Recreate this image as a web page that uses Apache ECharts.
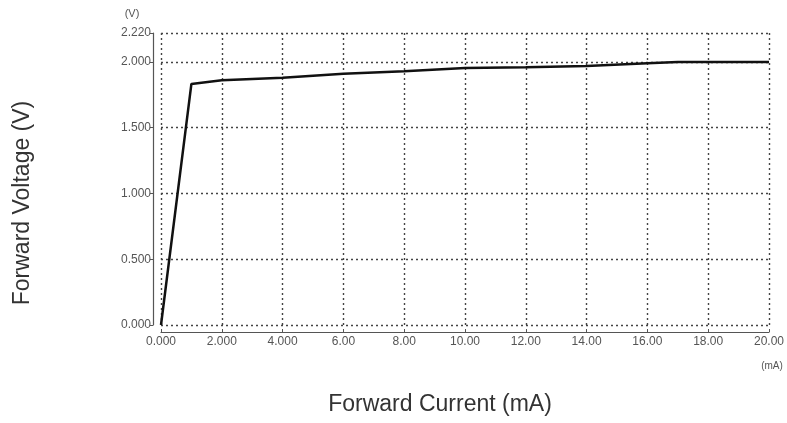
<!DOCTYPE html>
<html>
<head>
<meta charset="utf-8">
<script src="https://cdn.jsdelivr.net/npm/echarts@6/dist/echarts.min.js"></script>
<style>
html,body{margin:0;padding:0;background:#fff;}
#chart{width:787px;height:423px;}
</style>
</head>
<body>
<div id="chart"></div>
<script>
const currentMA = [0, 1, 2, 4, 6, 8, 10, 12, 14, 16, 17, 18, 20];
const voltageV  = [0, 1.833, 1.86, 1.88, 1.91, 1.93, 1.953, 1.96, 1.97, 1.99, 2.0, 2.0, 2.0];
const xTitle = 'Forward Current (mA)';
const yTitle = 'Forward Voltage (V)';
const xUnit = '(mA)';
const yUnit = '(V)';

const chart = echarts.init(document.getElementById('chart'), null, {renderer: 'canvas'});
const labelFont = {fontFamily: 'Liberation Sans, Arial, sans-serif', fontSize: 12, color: '#555'};
const gridLine = {show: true, lineStyle: {color: '#444', type: [2, 3], width: 1.4}};

chart.setOption({
  animation: false,
  backgroundColor: '#fff',
  grid: {left: 161, right: 15, top: 33, bottom: 98, containLabel: false},
  xAxis: {
    type: 'value', min: 0, max: 20, interval: 2, offset: 7,
    axisLine: {show: true, onZero: false, lineStyle: {color: '#555', width: 1.2}},
    axisTick: {show: true, length: 3, inside: true, lineStyle: {color: '#555'}},
    axisLabel: Object.assign({margin: 4, showMaxLabel: true,
      formatter: v => v < 5 ? v.toFixed(3) : v.toFixed(2)}, labelFont),
    splitLine: gridLine
  },
  yAxis: {
    type: 'value', min: 0, max: 2.22, interval: 0.5, offset: 8,
    axisLine: {show: true, onZero: false, lineStyle: {color: '#555', width: 1.2}},
    axisTick: {show: true, length: 3, lineStyle: {color: '#555'}},
    axisLabel: Object.assign({margin: 2, showMaxLabel: true,
      formatter: v => v.toFixed(3)}, labelFont),
    splitLine: gridLine
  },
  series: [{
    type: 'line',
    data: currentMA.map((x, i) => [x, voltageV[i]]),
    showSymbol: false,
    lineStyle: {color: '#111', width: 2.5},
    z: 5
  }],
  graphic: [
    {type: 'text', x: 132, y: 14, style: {text: yUnit, font: '11px Liberation Sans', fill: '#555', align: 'center', verticalAlign: 'middle'}},
    {type: 'text', x: 772, y: 366, style: {text: xUnit, font: '10px Liberation Sans', fill: '#555', align: 'center', verticalAlign: 'middle'}},
    {type: 'text', x: 440, y: 405, style: {text: xTitle, font: '23px Liberation Sans', fill: '#333', align: 'center', verticalAlign: 'middle'}},
    {type: 'text', x: 23, y: 203, rotation: Math.PI / 2, style: {text: yTitle, font: '23px Liberation Sans', fill: '#333', align: 'center', verticalAlign: 'middle'}}
  ]
});
</script>
</body>
</html>
